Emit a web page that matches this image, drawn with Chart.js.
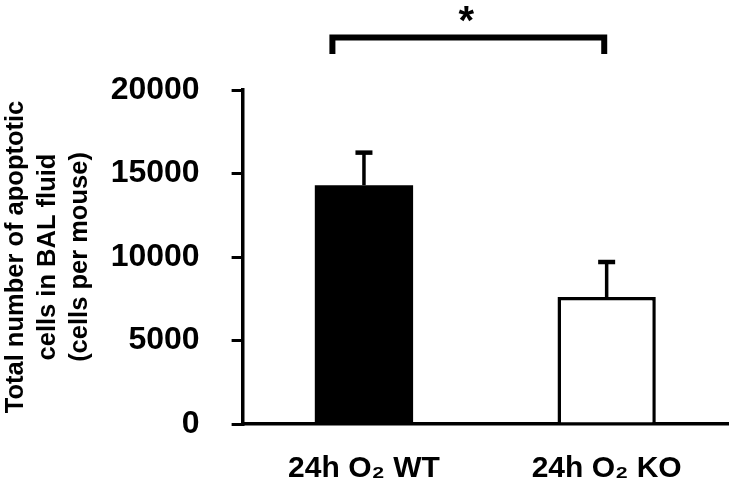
<!DOCTYPE html>
<html>
<head>
<meta charset="utf-8">
<script src="https://cdn.jsdelivr.net/npm/chart.js@4.4.1/dist/chart.umd.min.js"></script>
<style>
  html, body { margin: 0; padding: 0; background: #fff; }
  #wrap { width: 733px; height: 489px; }
</style>
</head>
<body>
<div id="wrap"><canvas id="c"></canvas></div>
<script>
/* ---------- data ---------- */
const categories = ["24h O₂ WT", "24h O₂ KO"];
const means = [14300, 7600];
const sems = [1950, 2100];
const yTicks = [0, 5000, 10000, 15000, 20000];
const yTitle = ["Total number of apoptotic", "cells in BAL fluid", "(cells per mouse)"];
const sigLabel = "*";

/* bracket placement (data units / category index) */
const SIG = { from: -0.13, to: 0.99, level: 23150, drop: 1000 };

const FONT = "'Liberation Sans', Arial, sans-serif";

/* error bars: stem + cap, upward only */
const errorBars = {
  id: "errorBars",
  afterDatasetsDraw(chart) {
    const { ctx, scales: { x, y } } = chart;
    ctx.save();
    ctx.strokeStyle = "#000";
    means.forEach((m, i) => {
      const cx = x.getPixelForValue(i);
      const y0 = y.getPixelForValue(m);
      const y1 = y.getPixelForValue(m + sems[i]);
      ctx.lineWidth = 3.5;
      ctx.beginPath();
      ctx.moveTo(cx, y0);
      ctx.lineTo(cx, y1);
      ctx.stroke();
      ctx.lineWidth = 4.5;
      ctx.beginPath();
      ctx.moveTo(cx - 8.5, y1);
      ctx.lineTo(cx + 8.5, y1);
      ctx.stroke();
    });
    ctx.restore();
  },
};

/* significance bracket + asterisk */
const sigBracket = {
  id: "sigBracket",
  afterDraw(chart) {
    const { ctx, scales: { x, y } } = chart;
    const xl = x.getPixelForValue(SIG.from);
    const xr = x.getPixelForValue(SIG.to);
    const yt = y.getPixelForValue(SIG.level);
    const yb = y.getPixelForValue(SIG.level - SIG.drop);
    ctx.save();
    ctx.strokeStyle = "#000";
    ctx.lineWidth = 6;
    ctx.lineJoin = "miter";
    ctx.beginPath();
    ctx.moveTo(xl, yb);
    ctx.lineTo(xl, yt);
    ctx.lineTo(xr, yt);
    ctx.lineTo(xr, yb);
    ctx.stroke();
    ctx.fillStyle = "#000";
    ctx.font = "bold 40px " + FONT;
    ctx.textAlign = "center";
    ctx.textBaseline = "alphabetic";
    ctx.fillText(sigLabel, (xl + xr) / 2 - 2, yt - 3);
    ctx.restore();
  },
};

new Chart(document.getElementById("c"), {
  type: "bar",
  data: {
    labels: categories,
    datasets: [
      {
        data: means,
        backgroundColor: ["#000", "#fff"],
        borderColor: "#000",
        borderWidth: [0, 3.5],
        borderSkipped: "start",
        categoryPercentage: 1,
        barPercentage: 0.405,
      },
    ],
  },
  options: {
    responsive: true,
    maintainAspectRatio: false,
    animation: false,
    layout: { padding: { top: 90, right: 5, left: 0, bottom: -25 } },
    plugins: { legend: { display: false }, tooltip: { enabled: false } },
    scales: {
      x: {
        grid: { display: false, drawTicks: false },
        border: { color: "#000", width: 3.5 },
        ticks: {
          color: "#000",
          padding: 27,
          font: { family: FONT, size: 30, weight: "bold" },
        },
      },
      y: {
        min: 0,
        max: 20000,
        afterBuildTicks: (s) => { s.ticks = yTicks.map((v) => ({ value: v })); },
        grid: { drawOnChartArea: false, drawTicks: true, tickLength: 11, color: "#000", lineWidth: 3 },
        border: { color: "#000", width: 3.5 },
        ticks: {
          color: "#000",
          padding: 32,
          callback: (v) => String(v),
          font: { family: FONT, size: 32, weight: "bold" },
        },
        title: {
          display: true,
          text: yTitle,
          color: "#000",
          padding: { top: 0, bottom: -17 },
          font: { family: FONT, size: 25.5, weight: "bold", lineHeight: 1.25 },
        },
      },
    },
  },
  plugins: [errorBars, sigBracket],
});
</script>
</body>
</html>
